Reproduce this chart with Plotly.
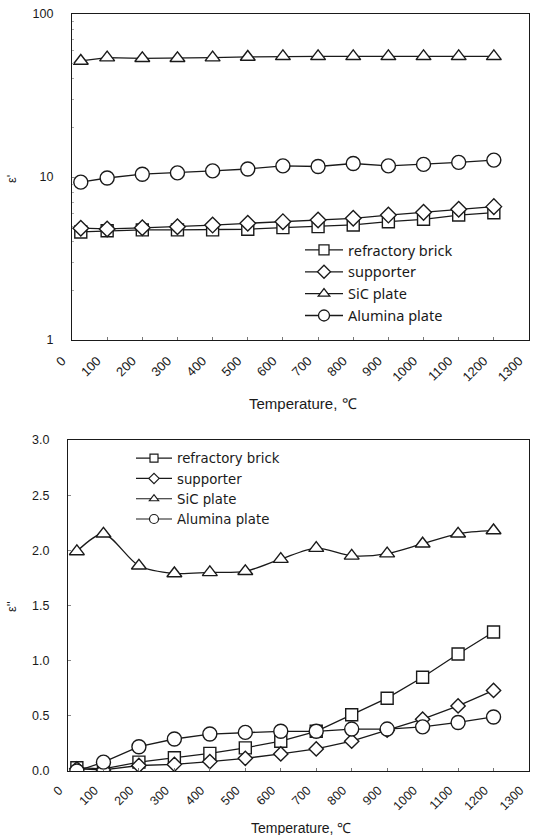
import plotly.graph_objects as go

temps = [25, 100, 200, 300, 400, 500, 600, 700, 800, 900, 1000, 1100, 1200]

# epsilon' (top, log axis)
eps1_brick = [4.6, 4.68, 4.74, 4.74, 4.74, 4.78, 4.89, 4.96, 5.08, 5.32, 5.5, 5.84, 6.04]
eps1_supp = [4.85, 4.8, 4.88, 4.95, 5.07, 5.2, 5.32, 5.45, 5.58, 5.84, 6.07, 6.34, 6.58]
eps1_sic = [51.5, 54, 53.5, 53.5, 54, 54.5, 55, 55, 55, 55, 55, 55, 55]
eps1_alu = [9.3, 9.86, 10.4, 10.6, 10.9, 11.2, 11.7, 11.6, 12.1, 11.7, 11.95, 12.3, 12.7]

# epsilon'' (bottom, linear axis)
eps2_brick = [0.03, 0.02, 0.08, 0.12, 0.16, 0.21, 0.27, 0.36, 0.51, 0.66, 0.85, 1.06, 1.26]
eps2_supp = [0.02, 0.01, 0.05, 0.06, 0.085, 0.115, 0.155, 0.20, 0.27, 0.37, 0.47, 0.59, 0.73]
eps2_sic = [1.99, 2.15, 1.86, 1.79, 1.80, 1.81, 1.92, 2.02, 1.95, 1.97, 2.06, 2.15, 2.18]
eps2_alu = [0.0, 0.08, 0.22, 0.29, 0.335, 0.35, 0.36, 0.36, 0.38, 0.38, 0.40, 0.44, 0.49]

names = ["refractory brick", "supporter", "SiC plate", "Alumina plate"]
symbols = ["square", "diamond", "triangle-up", "circle"]
top_sizes = [12, 12, 13, 14]
bot_sizes = [12, 11, 13, 14]
top_leg_sizes = [10, 10, 10, 11]
bot_leg_sizes = [8, 8, 8, 9]

x_ticks = list(range(0, 1400, 100))
FONT = "Arial, Liberation Sans, sans-serif"
INK = "#1a1a1a"

fig = go.Figure()
top_series = [eps1_brick, eps1_supp, eps1_sic, eps1_alu]
bot_series = [eps2_brick, eps2_supp, eps2_sic, eps2_alu]

for name, sym, sz, ys in zip(names, symbols, top_sizes, top_series):
    fig.add_trace(go.Scatter(
        x=temps, y=ys, name=name, mode="lines+markers", showlegend=False,
        line=dict(color=INK, width=1.3),
        marker=dict(symbol=sym, size=sz, color="white", line=dict(width=1.4, color=INK)),
        xaxis="x", yaxis="y"))

for name, sym, sz, ys in zip(names, symbols, bot_sizes, bot_series):
    fig.add_trace(go.Scatter(
        x=temps, y=ys, name=name, mode="lines+markers", showlegend=False,
        line=dict(color=INK, width=1.3, shape="spline" if name == "SiC plate" else "linear",
                  smoothing=0.8),
        marker=dict(symbol=sym, size=sz, color="white", line=dict(width=1.4, color=INK)),
        xaxis="x2", yaxis="y2"))

# legend entries (no data drawn)
for name, sym, sz in zip(names, symbols, top_leg_sizes):
    fig.add_trace(go.Scatter(
        x=[None], y=[None], name=name, mode="lines+markers",
        line=dict(color=INK, width=1.3),
        marker=dict(symbol=sym, size=sz, color="white", line=dict(width=1.3, color=INK)),
        xaxis="x", yaxis="y", legend="legend"))
for name, sym, sz in zip(names, symbols, bot_leg_sizes):
    fig.add_trace(go.Scatter(
        x=[None], y=[None], name=name, mode="lines+markers",
        line=dict(color=INK, width=1.2),
        marker=dict(symbol=sym, size=sz, color="white", line=dict(width=1.2, color=INK)),
        xaxis="x2", yaxis="y2", legend="legend2"))

W, H = 537, 835
def px(v): return v / W
def py(v): return (H - v) / H

def xaxis_style(dom, anchor, standoff, shift, size):
    return dict(domain=dom, range=[0, 1300], tickvals=x_ticks, tickangle=-45, anchor=anchor,
                automargin=False,
                showgrid=False, zeroline=False, showline=True, linecolor=INK,
                linewidth=1.2, mirror=True, ticks="inside", ticklen=3, tickcolor="#777",
                ticklabelstandoff=standoff, ticklabelshift=shift,
                tickfont=dict(family=FONT, size=size, color=INK))

yaxis_common = dict(showgrid=False, zeroline=False, showline=True, linecolor=INK,
                    automargin=False,
                    linewidth=1.2, mirror=True, ticks="inside", ticklen=3, tickcolor="#888",
                    ticklabelstandoff=15, tickfont=dict(family=FONT, size=12.5, color=INK))

minor_vals = [2, 3, 4, 5, 6, 7, 8, 9, 20, 30, 40, 50, 60, 70, 80, 90]

fig.update_layout(
    template="none",
    width=W, height=H, margin=dict(l=0, r=0, t=0, b=0, autoexpand=False),
    paper_bgcolor="white", plot_bgcolor="white",
    font=dict(family=FONT, color=INK),
    xaxis=xaxis_style([px(72), px(529)], "y", 7, -10, 13),
    yaxis=dict(domain=[py(340), py(14)], type="log", range=[0, 2],
               tickvals=[1, 10, 100], ticktext=["1", "10", "100"], anchor="x",
               minor=dict(tickvals=minor_vals, ticks="inside", ticklen=2, tickcolor="#aaa",
                          tickwidth=1, showgrid=False),
               **yaxis_common),
    xaxis2=xaxis_style([px(68), px(529)], "y2", 6, -9, 12.5),
    yaxis2=dict(domain=[py(771), py(440)], range=[0, 3], dtick=0.5, tickformat=".1f",
                anchor="x2", **yaxis_common),
    legend=dict(x=px(300), y=py(234), xanchor="left", yanchor="top",
                bgcolor="rgba(0,0,0,0)", borderwidth=0, tracegroupgap=0, itemwidth=38,
                font=dict(family="Noto Sans, sans-serif", size=14.5, color=INK)),
    legend2=dict(x=px(131), y=py(443), xanchor="left", yanchor="top",
                 bgcolor="rgba(0,0,0,0)", borderwidth=0, tracegroupgap=0, itemwidth=36,
                 font=dict(family="DejaVu Sans, sans-serif", size=13.3, color=INK)),
    showlegend=True,
    annotations=[
        dict(text="Temperature, ℃", x=px(303), y=py(403), xref="paper", yref="paper",
             xanchor="center", yanchor="middle",
             showarrow=False, font=dict(family=FONT, size=15, color=INK)),
        dict(text="Temperature, ℃", x=px(301), y=py(828), xref="paper", yref="paper",
             xanchor="center", yanchor="middle",
             showarrow=False, font=dict(family=FONT, size=14, color=INK)),
        dict(text="ε'", x=px(11), y=py(179), xref="paper", yref="paper", textangle=-90,
             xanchor="center", yanchor="middle",
             showarrow=False, font=dict(family=FONT, size=13, color=INK)),
        dict(text="ε''", x=px(11), y=py(607), xref="paper", yref="paper", textangle=-90,
             xanchor="center", yanchor="middle",
             showarrow=False, font=dict(family=FONT, size=13, color=INK)),
    ],
)

fig.write_html("out.html")
